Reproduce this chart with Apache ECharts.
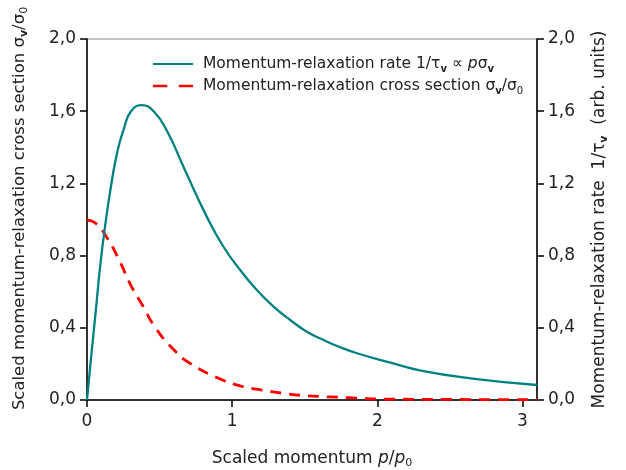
<!DOCTYPE html>
<html>
<head>
<meta charset="utf-8">
<script src="https://cdn.jsdelivr.net/npm/echarts@6/dist/echarts.min.js"></script>
<style>
  html, body { margin: 0; padding: 0; background: #fff; }
  #main { width: 626px; height: 470px; }
</style>
</head>
<body>
<div id="main"></div>
<script>
// values
var rateP = [0, 0.025, 0.06, 0.094, 0.129, 0.163, 0.209, 0.255, 0.301, 0.375, 0.462, 0.554, 0.669, 0.825, 0.94, 1.055, 1.17, 1.285, 1.4, 1.515, 1.63, 1.745, 1.86, 2.09, 2.3, 2.64, 3.1];
var rateY = [0, 0.21, 0.49, 0.766, 0.988, 1.173, 1.376, 1.505, 1.597, 1.634, 1.597, 1.486, 1.284, 1.016, 0.849, 0.72, 0.609, 0.517, 0.443, 0.378, 0.332, 0.292, 0.259, 0.207, 0.163, 0.12, 0.083];

var crossP = [0, 0.06, 0.14, 0.221, 0.301, 0.381, 0.474, 0.6, 0.71, 0.906, 1.055, 1.205, 1.354, 1.503, 1.653, 1.8, 1.95, 2.09, 2.5, 3.1];
var crossY = [0.997, 0.979, 0.896, 0.776, 0.637, 0.526, 0.397, 0.277, 0.203, 0.12, 0.078, 0.055, 0.037, 0.024, 0.018, 0.013, 0.007, 0.005, 0.003, 0.002];

var xTicks = [0, 1, 2, 3];

var FONT = 'DejaVu Sans';

var pairs = function(xs, ys) {
	return xs.map(function(x, i) { return [x, ys[i]]; });
};

var comma = function(v) {
	return v.toFixed(1).replace('.', ',');
};

// rich text styles: t = normal, i = italic, sub = bold subscript v, s0 = subscript 0
var makeRich = function(size, subSize) {
	return {
		t: { fontFamily: FONT, fontSize: size, color: '#222', lineHeight: 20, verticalAlign: 'middle' },
		i: { fontFamily: FONT, fontSize: size, color: '#222', fontStyle: 'italic', lineHeight: 20, verticalAlign: 'middle' },
		sub: { fontFamily: FONT, fontSize: subSize, color: '#222', fontWeight: 'bold', lineHeight: 20, verticalAlign: 'bottom' },
		s0: { fontFamily: FONT, fontSize: subSize, color: '#222', lineHeight: 20, verticalAlign: 'bottom' }
	};
};

var chart = echarts.init(document.getElementById('main'));

var option = {
	animation: false,
	backgroundColor: '#fff',
	grid: {
		left: 87, right: 89, top: 39, bottom: 70,
		outerBoundsMode: 'none',
		containLabel: false,
		show: true, borderColor: '#888', borderWidth: 1
	},
	legend: {
		left: 148,
		top: 51,
		orient: 'vertical',
		itemWidth: 40,
		itemHeight: 14,
		itemGap: 4,
		data: [
			{ name: 'rate', icon: 'path://M0,6H40V8H0Z' },
			{ name: 'cross', icon: 'path://M0,6H11V8H0ZM20,6H31V8H20Z' }
		],
		formatter: function(name) {
			if (name === 'rate') {
				return '{t|Momentum-relaxation rate 1/τ}{sub|v}{t| ∝ }{i|p}{t|σ}{sub|v}';
			}
			return '{t|Momentum-relaxation cross section σ}{sub|v}{t|/σ}{s0|0}';
		},
		textStyle: { padding: [0, 0, 0, 5], rich: makeRich(15.5, 10) }
	},
	xAxis: {
		type: 'value',
		min: 0,
		max: 3.1,
		interval: 1,
		name: '{t|Scaled momentum }{i|p}{t|/}{i|p}{s0|0}',
		nameLocation: 'middle',
		nameGap: 49,
		nameTextStyle: { rich: makeRich(17, 11) },
		axisLine: { show: true, lineStyle: { color: '#000', width: 1.5 } },
		axisTick: { show: true, inside: false, length: 7, customValues: xTicks, lineStyle: { color: '#000', width: 1.5 } },
		axisLabel: { customValues: xTicks, margin: 13, fontFamily: FONT, fontSize: 17, color: '#222' },
		splitLine: { show: false }
	},
	yAxis: [{
		type: 'value',
		position: 'left',
		min: 0,
		max: 2,
		interval: 0.4,
		name: '{t|Scaled momentum-relaxation cross section σ}{sub|v}{t|/σ}{s0|0}',
		nameLocation: 'middle',
		nameGap: 57,
		nameTextStyle: { padding: [0, 0, 0, 22], rich: makeRich(16.5, 11) },
		axisLine: { show: true, lineStyle: { color: '#000', width: 1.5 } },
		axisTick: { show: true, inside: false, length: 7, lineStyle: { color: '#000', width: 1.5 } },
		axisLabel: { formatter: comma, margin: 11, fontFamily: FONT, fontSize: 17, color: '#222' },
		splitLine: { show: false }
	}, {
		type: 'value',
		position: 'right',
		min: 0,
		max: 2,
		interval: 0.4,
		name: '{t|Momentum-relaxation rate  1/τ}{sub|v}{t|  (arb. units)}',
		nameLocation: 'middle',
		nameGap: 53,
		nameTextStyle: { rich: makeRich(17, 11) },
		axisLine: { show: true, lineStyle: { color: '#000', width: 1.5 } },
		axisTick: { show: true, inside: false, length: 7, lineStyle: { color: '#000', width: 1.5 } },
		axisLabel: { formatter: comma, margin: 11, fontFamily: FONT, fontSize: 17, color: '#222' },
		splitLine: { show: false }
	}],
	series: [{
		name: 'rate',
		type: 'line',
		yAxisIndex: 1,
		data: pairs(rateP, rateY),
		smooth: 0.5,
		showSymbol: false,
		color: '#008080',
		lineStyle: { color: '#008080', width: 2.3 },
		z: 3
	}, {
		name: 'cross',
		type: 'line',
		yAxisIndex: 0,
		data: pairs(crossP, crossY),
		smooth: 0.5,
		showSymbol: false,
		color: '#ff0000',
		lineStyle: { color: '#ff0000', width: 2.8, type: [11, 8] },
		z: 2
	}]
};

chart.setOption(option);
</script>
</body>
</html>
